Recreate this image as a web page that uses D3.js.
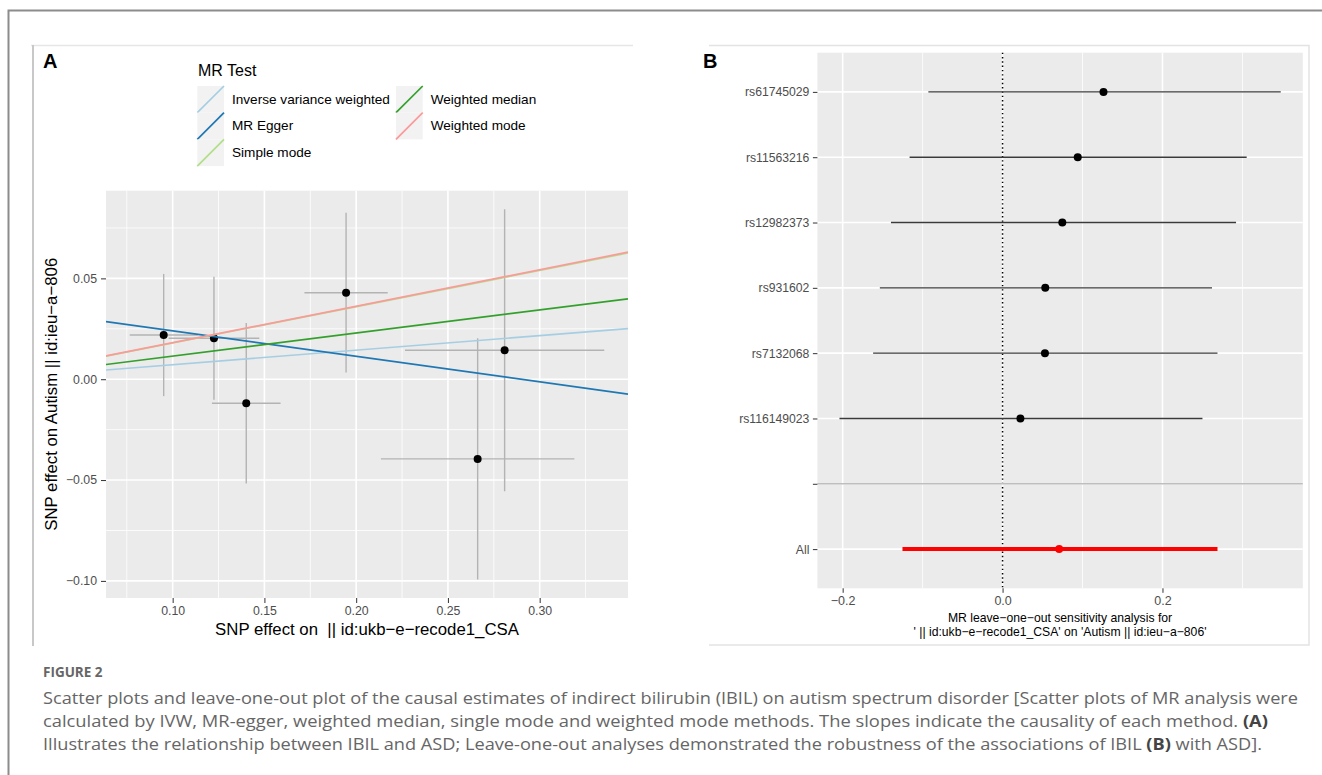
<!DOCTYPE html>
<meta charset="utf-8">
<title>Figure 2</title>
<style>
  body { margin: 0; background: #fff; }
  svg { display: block; }
  .gg text { font-family: "Liberation Sans", Arial, sans-serif; white-space: pre; }
  .tick text { fill: #4d4d4d; }
  .tick line { stroke: #333; }
  .domain { display: none; }
  .caption { font-family: "Open Sans", sans-serif; fill: #666; }
</style>
<svg width="1322" height="775"></svg>
<script src="https://d3js.org/d3.v7.min.js"></script>
<script>
// ---- panel A: SNP effects (x = exposure, y = outcome) ----
var snpX = [0.0951, 0.1225, 0.1401, 0.1945, 0.2809, 0.2662];
var snpXse = [0.0185, 0.0247, 0.0187, 0.0227, 0.0543, 0.0527];
var snpY = [0.0219, 0.0203, -0.0119, 0.0429, 0.0144, -0.0395];
var snpYse = [0.0303, 0.0305, 0.0398, 0.0396, 0.0699, 0.0598];

var methods = ["Inverse variance weighted", "MR Egger", "Simple mode", "Weighted median", "Weighted mode"];
var methodColors = ["#a6cee3", "#1f78b4", "#b2df8a", "#33a02c", "#fb9a99"];
var methodSlope = [0.0720, -0.1263, 0.1798, 0.1145, 0.1810];
var methodIntercept = [0, 0.0366, 0, 0, 0];

// ---- panel B: leave-one-out ----
var looSnps = ["rs61745029", "rs11563216", "rs12982373", "rs931602", "rs7132068", "rs116149023", "", "All"];
var looB = [0.1262, 0.0940, 0.0747, 0.0534, 0.0530, 0.0223, null, 0.0708];
var looLo = [-0.0928, -0.1163, -0.1396, -0.1535, -0.1619, -0.2040, null, -0.1252];
var looHi = [0.3479, 0.3053, 0.2920, 0.2619, 0.2688, 0.2500, null, 0.2688];

var svg = d3.select("svg");

function expand(lo, hi) { var d = (hi - lo) * 0.05; return [lo - d, hi + d]; }

// outer frame + panel boxes
svg.append("path").attr("d", "M8.5,775V10.5H1322").attr("fill", "none")
  .attr("stroke", "#8c8c8c").attr("stroke-width", 2);
svg.append("line").attr("x1", 31).attr("x2", 633).attr("y1", 45.5).attr("y2", 45.5)
  .attr("stroke", "#e6e6e6").attr("stroke-width", 1.5);
svg.append("line").attr("x1", 33).attr("x2", 33).attr("y1", 45).attr("y2", 646)
  .attr("stroke", "#c8c8c8").attr("stroke-width", 2);
svg.append("path").attr("d", "M709,45.5H1309V645H709").attr("fill", "none")
  .attr("stroke", "#e3e3e3").attr("stroke-width", 1.5);

// =================== PANEL A ===================
var gA = svg.append("g").attr("class", "gg");
var xA = d3.scaleLinear()
  .domain(expand(d3.min(snpX, (v, i) => v - snpXse[i]), d3.max(snpX, (v, i) => v + snpXse[i])))
  .range([106, 628]);
var yA = d3.scaleLinear()
  .domain(expand(d3.min(snpY, (v, i) => v - snpYse[i]), d3.max(snpY, (v, i) => v + snpYse[i])))
  .range([598, 190.7]);

gA.append("text").attr("x", 43).attr("y", 68).attr("font-size", 20).attr("font-weight", "bold").text("A");

gA.append("rect").attr("x", 106).attr("y", 190.7).attr("width", 522).attr("height", 598 - 190.7)
  .attr("fill", "#ebebeb");

var xMajA = [0.10, 0.15, 0.20, 0.25, 0.30];
var xMinA = [0.075, 0.125, 0.175, 0.225, 0.275, 0.325];
var yMajA = [0.05, 0.00, -0.05, -0.10];
var yMinA = [0.075, 0.025, -0.025, -0.075];

gA.selectAll(".xmin").data(xMinA).enter().append("line")
  .attr("x1", d => xA(d)).attr("x2", d => xA(d)).attr("y1", 190.7).attr("y2", 598)
  .attr("stroke", "#fff").attr("stroke-width", 0.8);
gA.selectAll(".ymin").data(yMinA).enter().append("line")
  .attr("y1", d => yA(d)).attr("y2", d => yA(d)).attr("x1", 106).attr("x2", 628)
  .attr("stroke", "#fff").attr("stroke-width", 0.8);
gA.selectAll(".xmaj").data(xMajA).enter().append("line")
  .attr("x1", d => xA(d)).attr("x2", d => xA(d)).attr("y1", 190.7).attr("y2", 598)
  .attr("stroke", "#fff").attr("stroke-width", 1.6);
gA.selectAll(".ymaj").data(yMajA).enter().append("line")
  .attr("y1", d => yA(d)).attr("y2", d => yA(d)).attr("x1", 106).attr("x2", 628)
  .attr("stroke", "#fff").attr("stroke-width", 1.6);

svg.append("clipPath").attr("id", "clipA").append("rect")
  .attr("x", 106).attr("y", 190.7).attr("width", 522).attr("height", 598 - 190.7);
var plotA = gA.append("g").attr("clip-path", "url(#clipA)");

// error bars
plotA.selectAll(".ev").data(snpX).enter().append("line")
  .attr("x1", d => xA(d)).attr("x2", d => xA(d))
  .attr("y1", (d, i) => yA(snpY[i] - snpYse[i])).attr("y2", (d, i) => yA(snpY[i] + snpYse[i]))
  .attr("stroke", "#b3b3b3").attr("stroke-width", 1.4);
plotA.selectAll(".eh").data(snpX).enter().append("line")
  .attr("x1", (d, i) => xA(d - snpXse[i])).attr("x2", (d, i) => xA(d + snpXse[i]))
  .attr("y1", (d, i) => yA(snpY[i])).attr("y2", (d, i) => yA(snpY[i]))
  .attr("stroke", "#b3b3b3").attr("stroke-width", 1.4);
plotA.selectAll(".pt").data(snpX).enter().append("circle")
  .attr("cx", d => xA(d)).attr("cy", (d, i) => yA(snpY[i])).attr("r", 4).attr("fill", "#000");

// regression lines
var xd = xA.domain();
plotA.selectAll(".mr").data(methods).enter().append("line")
  .attr("x1", xA(xd[0])).attr("x2", xA(xd[1]))
  .attr("y1", (d, i) => yA(methodIntercept[i] + methodSlope[i] * xd[0]))
  .attr("y2", (d, i) => yA(methodIntercept[i] + methodSlope[i] * xd[1]))
  .attr("stroke", (d, i) => methodColors[i]).attr("stroke-width", 1.7);

// axes
gA.append("g").attr("transform", "translate(106,0)")
  .call(d3.axisLeft(yA).tickValues(yMajA).tickFormat(d3.format(".2f")).tickSize(5).tickPadding(4))
  .call(g => g.selectAll("text").attr("font-size", 12.3));
gA.append("g").attr("transform", "translate(0,598)")
  .call(d3.axisBottom(xA).tickValues(xMajA).tickFormat(d3.format(".2f")).tickSize(5).tickPadding(3))
  .call(g => g.selectAll("text").attr("font-size", 12.3));

gA.append("text").attr("x", 367).attr("y", 635).attr("text-anchor", "middle").attr("font-size", 16.8)
  .text("SNP effect on  || id:ukb\u2212e\u2212recode1_CSA");
gA.append("text").attr("transform", "translate(57,394.3) rotate(-90)").attr("text-anchor", "middle")
  .attr("font-size", 16.8).text("SNP effect on Autism || id:ieu\u2212a\u2212806");

// legend
gA.append("text").attr("x", 198).attr("y", 75.7).attr("font-size", 16).text("MR Test");
var keyW = 26.7;
var leg = gA.selectAll(".leg").data(methods).enter().append("g")
  .attr("transform", (d, i) => "translate(" + (i < 3 ? 197.3 : 396) + "," + (86 + (i % 3) * keyW) + ")");
leg.append("rect").attr("width", keyW).attr("height", keyW).attr("fill", "#f2f2f2");
leg.append("line").attr("x1", 0).attr("y1", keyW).attr("x2", keyW).attr("y2", 0)
  .attr("stroke", (d, i) => methodColors[i]).attr("stroke-width", 1.7);
leg.append("text").attr("x", keyW + 8).attr("y", 17.5).attr("font-size", 13.6).text(d => d);

// =================== PANEL B ===================
var gB = svg.append("g").attr("class", "gg");
var xB = d3.scaleLinear()
  .domain(expand(d3.min(looLo.filter(v => v !== null)), d3.max(looHi.filter(v => v !== null))))
  .range([817.4, 1302.8]);
var yB = d3.scalePoint().domain(looSnps).range([52.7, 588.3]).padding(0.6);

gB.append("text").attr("x", 703).attr("y", 68).attr("font-size", 20).attr("font-weight", "bold").text("B");

gB.append("rect").attr("x", 817.4).attr("y", 52.7).attr("width", 1302.8 - 817.4).attr("height", 588.3 - 52.7)
  .attr("fill", "#ebebeb");

var xMajB = [-0.2, 0, 0.2];
var xMinB = [-0.1, 0.1, 0.3];
gB.selectAll(".xmin").data(xMinB).enter().append("line")
  .attr("x1", d => xB(d)).attr("x2", d => xB(d)).attr("y1", 52.7).attr("y2", 588.3)
  .attr("stroke", "#fff").attr("stroke-width", 0.8);
gB.selectAll(".xmaj").data(xMajB).enter().append("line")
  .attr("x1", d => xB(d)).attr("x2", d => xB(d)).attr("y1", 52.7).attr("y2", 588.3)
  .attr("stroke", "#fff").attr("stroke-width", 1.6);
gB.selectAll(".ymaj").data(looSnps).enter().append("line")
  .attr("y1", d => yB(d)).attr("y2", d => yB(d)).attr("x1", 817.4).attr("x2", 1302.8)
  .attr("stroke", "#fff").attr("stroke-width", 1.6);

gB.append("line").attr("x1", xB(0)).attr("x2", xB(0)).attr("y1", 52.7).attr("y2", 588.3)
  .attr("stroke", "#000").attr("stroke-width", 1.5).attr("stroke-dasharray", "1.4,2.9");

var looIdx = d3.range(looSnps.length).filter(i => looB[i] !== null);
gB.selectAll(".eb").data(looIdx).enter().append("line")
  .attr("x1", i => xB(looLo[i])).attr("x2", i => xB(looHi[i]))
  .attr("y1", i => yB(looSnps[i])).attr("y2", i => yB(looSnps[i]))
  .attr("stroke", i => looSnps[i] === "All" ? "#ff0000" : "#3a3a3a")
  .attr("stroke-width", i => looSnps[i] === "All" ? 4 : 1.4);
gB.selectAll(".pb").data(looIdx).enter().append("circle")
  .attr("cx", i => xB(looB[i])).attr("cy", i => yB(looSnps[i])).attr("r", 4)
  .attr("fill", i => looSnps[i] === "All" ? "#ff0000" : "#000");

// separator row
gB.append("line").attr("x1", 817.4).attr("x2", 1302.8).attr("y1", yB("")).attr("y2", yB(""))
  .attr("stroke", "#bebebe").attr("stroke-width", 1.5);

gB.append("g").attr("transform", "translate(817.4,0)")
  .call(d3.axisLeft(yB).tickSize(4.5).tickPadding(3.5))
  .call(g => g.selectAll("text").attr("font-size", 12.2));
gB.append("g").attr("transform", "translate(0,588.3)")
  .call(d3.axisBottom(xB).tickValues(xMajB).tickFormat(d3.format(".1f")).tickSize(4.5).tickPadding(3.5))
  .call(g => g.selectAll("text").attr("font-size", 12.5));

gB.append("text").attr("x", 1060).attr("y", 622).attr("text-anchor", "middle").attr("font-size", 12.2)
  .text("MR leave\u2212one\u2212out sensitivity analysis for");
gB.append("text").attr("x", 1060).attr("y", 636).attr("text-anchor", "middle").attr("font-size", 12.2)
  .text("' || id:ukb\u2212e\u2212recode1_CSA' on 'Autism || id:ieu\u2212a\u2212806'");

// =================== caption ===================
svg.append("text").attr("class", "caption").attr("x", 43).attr("y", 677)
  .attr("font-size", 13.5).attr("font-weight", "bold").attr("fill", "#555").text("FIGURE 2");

var capLines = [
  [["Scatter plots and leave-one-out plot of the causal estimates of indirect bilirubin (IBIL) on autism spectrum disorder [Scatter plots of MR analysis were", false]],
  [["calculated by IVW, MR-egger, weighted median, single mode and weighted mode methods. The slopes indicate the causality of each method. ", false], ["(A)", true]],
  [["Illustrates the relationship between IBIL and ASD; Leave-one-out analyses demonstrated the robustness of the associations of IBIL ", false], ["(B)", true], [" with ASD].", false]]
];
var capEnds = [1298, 1268, 1262];
var capBase = [704, 727, 750];
capLines.forEach(function (parts, li) {
  var t = svg.append("text").attr("class", "caption").attr("x", 43).attr("y", capBase[li])
    .attr("font-size", 16).attr("textLength", capEnds[li] - 43).attr("lengthAdjust", "spacingAndGlyphs");
  parts.forEach(function (p) {
    t.append("tspan").text(p[0]).attr("font-weight", p[1] ? "bold" : null).attr("fill", p[1] ? "#444" : null);
  });
});
</script>
